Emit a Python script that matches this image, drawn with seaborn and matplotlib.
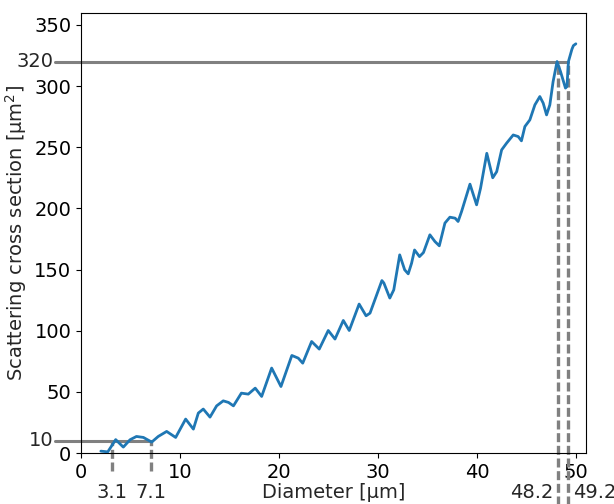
import matplotlib
matplotlib.use('Agg')
import matplotlib.pyplot as plt
import seaborn as sns
import pandas as pd

# diameter [um] and scattering cross section [um^2]
diameter = [2.0, 2.7, 3.5, 4.27, 4.95, 5.6, 6.3, 7.14, 7.8, 8.65, 9.56, 10.57,
            11.35, 11.85, 12.35, 13.03, 13.7, 14.37, 14.9, 15.4, 16.2, 16.9,
            17.6, 18.25, 19.26, 20.2, 21.3, 21.95, 22.4, 23.3, 24.07, 24.98,
            25.66, 26.5, 27.1, 28.1, 28.8, 29.2, 30.4, 30.6, 31.2, 31.6, 32.2,
            32.7, 33.06, 33.4, 33.7, 34.2, 34.6, 35.25, 35.76, 36.2, 36.77,
            37.27, 37.8, 38.1, 38.45, 39.3, 39.97, 40.37, 41.0, 41.6, 42.0,
            42.5, 43.0, 43.67, 44.17, 44.5, 44.85, 45.35, 45.86, 46.36, 46.7,
            47.04, 47.37, 47.7, 48.1, 48.45, 48.95, 49.1, 49.25, 49.6, 49.75, 50.0]
cross_section = [1.6, 1.0, 11.0, 4.9, 10.9, 13.6, 12.8, 9.0, 13.6, 17.7, 12.8, 27.8,
                 19.6, 32.7, 36.0, 29.4, 38.6, 42.7, 41.4, 38.6, 49.0, 48.2,
                 53.1, 46.3, 69.5, 54.4, 79.8, 77.6, 73.5, 91.2, 85.0, 100.2,
                 93.2, 108.4, 100.2, 121.8, 112.2, 114.4, 141.0, 139.0, 126.7, 133.4, 162.0,
                 149.8, 146.5, 155.2, 166.0, 160.6, 163.9, 178.4, 172.9, 169.4, 188.0,
                 192.8, 192.0, 189.3, 197.4, 219.8, 202.9, 216.5, 245.0, 225.0, 230.0,
                 247.8, 253.3, 260.0, 258.7, 255.2, 266.9, 272.3, 284.6, 291.4, 286.0,
                 276.4, 284.6, 303.6, 320.0, 311.8, 298.3, 299.6, 320.0, 330.0, 333.0, 334.5]

# marked levels and the diameters where the curve reaches them
levels = [10, 320]
marks_low = [3.1, 7.1]
marks_high = [48.2, 49.2]

df = pd.DataFrame({'d': diameter, 's': cross_section})

sns.set_style('ticks')
plt.rcParams['font.family'] = ['DejaVu Sans']
plt.rcParams['font.size'] = 14

fig, ax = plt.subplots(figsize=(6.14, 5.04), dpi=100)
fig.subplots_adjust(left=0.132, right=0.954, bottom=0.101, top=0.975)

sns.lineplot(data=df, x='d', y='s', ax=ax, color='#1f77b4', linewidth=2,
             solid_joinstyle='round', zorder=3)

grey = '#808080'
dash = (0, (2.7, 1.1))
for lev, marks in zip(levels, [marks_low, marks_high]):
    ax.plot([-2.6, max(marks)], [lev, lev], color=grey, lw=2.2, clip_on=False, zorder=2)
    ax.text(-2.8, lev, str(lev), ha='right', va='center', fontsize=14)

# low marks: dashed drop lines with labels centred below
for m in marks_low:
    ax.plot([m, m], [-15, levels[0]], color=grey, lw=2.4, ls=dash, clip_on=False, zorder=2)
    ax.text(m, -32.5, str(m), ha='center', va='center', fontsize=14)

# high marks: drop lines run to the bottom, labels either side
ax.plot([marks_high[0]] * 2, [-45, levels[1]], color=grey, lw=2.4, ls=dash, clip_on=False, zorder=2)
ax.text(marks_high[0] - 0.45, -32.5, str(marks_high[0]), ha='right', va='center', fontsize=14)
ax.plot([marks_high[1]] * 2, [-45, levels[1]], color=grey, lw=2.4, ls=dash, clip_on=False, zorder=2)
ax.text(marks_high[1] + 0.5, -32.5, str(marks_high[1]), ha='left', va='center', fontsize=14)

ax.set_xlim(0, 51)
ax.set_ylim(0, 360)
ax.set_xticks([0, 10, 20, 30, 40, 50])
ax.set_yticks([0, 50, 100, 150, 200, 250, 300, 350])
ax.tick_params(labelsize=14, colors='black')
for sp in ax.spines.values():
    sp.set_color('black')
ax.set_xlabel('Diameter [µm]', fontsize=14, labelpad=1)
ax.set_ylabel('Scattering cross section [µm$^2$]', fontsize=14)

fig.savefig('out.png', dpi=100)
